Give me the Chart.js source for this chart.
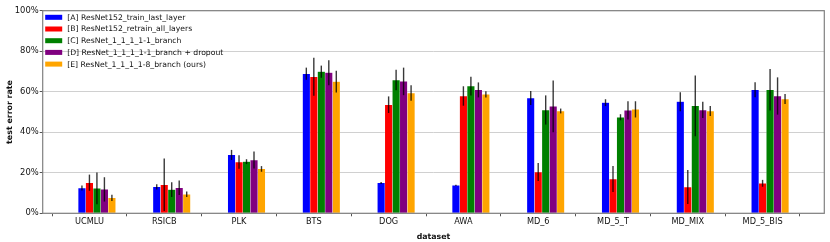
<!DOCTYPE html>
<html>
<head>
<meta charset="utf-8">
<script src="https://cdn.jsdelivr.net/npm/chart.js@4.4.0/dist/chart.umd.min.js"></script>
<style>
  html, body { margin: 0; padding: 0; background: #fff; }
  #wrap { width: 830px; height: 242px; }
</style>
</head>
<body>
<div id="wrap"><canvas id="errChart" width="830" height="242"></canvas></div>
<script>
// datasets on the x axis
const categories = ["UCMLU", "RSICB", "PLK", "BTS", "DOG", "AWA", "MD_6", "MD_5_T", "MD_MIX", "MD_5_BIS"];

const seriesLabels = [
  "[A] ResNet152_train_last_layer",
  "[B] ResNet152_retrain_all_layers",
  "[C] ResNet_1_1_1_1-1_branch",
  "[D] ResNet_1_1_1_1-1_branch + dropout",
  "[E] ResNet_1_1_1_1-8_branch (ours)",
];

// mean test error (%) and std (%)
const meanA = [12.5, 13.1, 28.8, 68.9, 15.0, 13.8, 56.9, 54.6, 55.1, 61.0];
const errA = [1.2, 1.3, 2.5, 3.0, 0.5, 0.3, 3.5, 1.7, 4.7, 3.7];
const meanB = [15.1, 14.1, 25.3, 67.4, 53.6, 57.9, 20.4, 16.9, 13.0, 14.8];
const errB = [4.0, 13.0, 3.3, 9.4, 4.1, 4.8, 4.4, 6.4, 8.4, 1.7];
const meanC = [12.3, 11.7, 25.5, 69.9, 65.8, 62.8, 51.0, 47.4, 53.0, 61.0];
const errC = [7.8, 3.6, 1.2, 3.0, 5.1, 4.6, 7.2, 1.5, 15.0, 10.2];
const meanD = [11.8, 12.6, 26.3, 69.4, 65.1, 60.9, 52.8, 50.8, 51.0, 57.9];
const errD = [6.0, 3.6, 4.2, 6.2, 6.8, 3.7, 12.8, 4.5, 4.0, 9.2];
const meanE = [7.6, 9.4, 21.9, 65.0, 59.4, 58.7, 50.5, 51.3, 50.5, 56.4];
const errE = [1.5, 1.3, 1.4, 5.4, 3.8, 1.6, 1.2, 4.0, 2.5, 2.5];

const means = [meanA, meanB, meanC, meanD, meanE];
const errs = [errA, errB, errC, errD, errE];
const colors = ["#0000ff", "#ff0000", "#008000", "#800080", "#ffa500"];

const FONT = "'DejaVu Sans', sans-serif";

// ticks sit on the 2nd bar of each group, so the group centre is shifted by one bar
const datasets = means.map((m, k) => ({
  label: seriesLabels[k],
  data: m.map((v, i) => ({ x: i + 0.1, y: v })),
  err: errs[k],
  backgroundColor: colors[k],
  borderColor: "rgba(255,255,255,0.3)",
  borderWidth: 0.5,
  barThickness: 7.49,
}));

const errorBars = {
  id: "errorBars",
  afterDatasetsDraw(chart) {
    const ctx = chart.ctx;
    const y = chart.scales.y;
    ctx.save();
    ctx.strokeStyle = "rgba(0,0,0,0.78)";
    ctx.lineWidth = 1.4;
    chart.data.datasets.forEach((ds, k) => {
      const meta = chart.getDatasetMeta(k);
      meta.data.forEach((bar, i) => {
        const v = ds.data[i].y, e = ds.err[i];
        ctx.beginPath();
        ctx.moveTo(bar.x, y.getPixelForValue(v - e));
        ctx.lineTo(bar.x, y.getPixelForValue(v + e));
        ctx.stroke();
      });
    });
    ctx.restore();
  },
};

// matplotlib style frame + legend in the upper left corner
const frameAndLegend = {
  id: "frameAndLegend",
  afterDraw(chart) {
    const ctx = chart.ctx;
    const a = chart.chartArea;
    ctx.save();
    ctx.strokeStyle = "#808080";
    ctx.lineWidth = 1.2;
    ctx.strokeRect(a.left, a.top, a.right - a.left, a.bottom - a.top);

    ctx.font = "7.7px " + FONT;
    ctx.textBaseline = "middle";
    ctx.textAlign = "left";
    chart.data.datasets.forEach((ds, k) => {
      const cy = a.top + 6.6 + k * 11.7;
      ctx.fillStyle = ds.backgroundColor;
      ctx.fillRect(a.left + 2.5, cy - 2.5, 17, 5);
      ctx.fillStyle = "#111";
      ctx.fillText(ds.label, a.left + 24.5, cy + 0.5);
    });
    ctx.restore();
  },
};

const config = {
  type: "bar",
  data: { datasets },
  options: {
    responsive: false,
    animation: false,
    devicePixelRatio: 1,
    layout: { padding: { top: 10.7, right: 5.7, left: 0, bottom: 0 } },
    plugins: {
      legend: { display: false },
      tooltip: { enabled: false },
    },
    scales: {
      x: {
        type: "linear",
        min: -0.625,
        max: 9.825,
        offset: false,
        afterFit: (s) => { s.height = 28.7; },
        grid: { drawOnChartArea: false, drawTicks: true, tickLength: 3, tickColor: "#555" },
        border: { display: false },
        ticks: {
          stepSize: 1,
          includeBounds: false,
          font: { family: FONT, size: 8.2 },
          color: "#111",
          padding: 1,
          maxRotation: 0,
          autoSkip: false,
          callback: (v) => categories[v],
        },
        title: {
          display: true,
          text: "dataset",
          font: { family: FONT, size: 7.8, weight: "bold" },
          color: "#111",
          padding: { top: 0, bottom: 0.5 },
        },
      },
      y: {
        min: 0,
        max: 100,
        afterFit: (s) => { s.width = 42.7; },
        grid: { color: "#d0d0d0", lineWidth: 1, tickLength: 3, tickColor: "#555" },
        border: { display: false },
        ticks: {
          stepSize: 20,
          font: { family: FONT, size: 8.4 },
          color: "#111",
          padding: 1,
          callback: (v) => v + "%",
        },
        title: {
          display: true,
          text: "test error rate",
          font: { family: FONT, size: 7.9, weight: "bold" },
          color: "#111",
          padding: { top: 5, bottom: 0 },
        },
      },
    },
  },
  plugins: [errorBars, frameAndLegend],
};

new Chart(document.getElementById("errChart").getContext("2d"), config);
</script>
</body>
</html>
